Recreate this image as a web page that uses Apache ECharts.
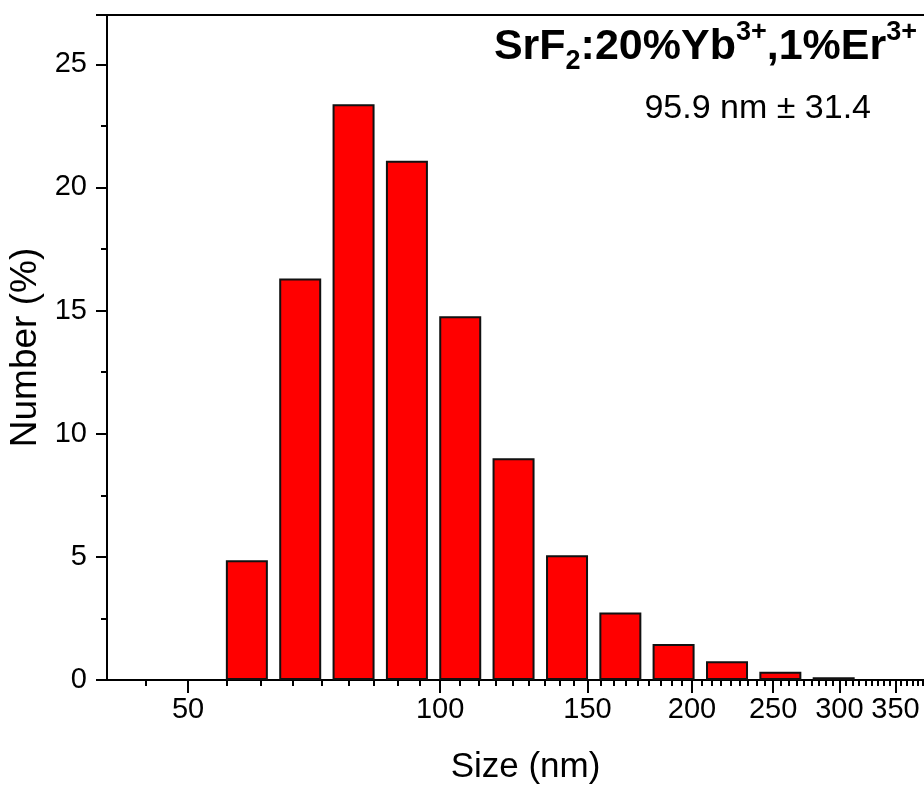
<!DOCTYPE html>
<html>
<head>
<meta charset="utf-8">
<script src="https://cdn.jsdelivr.net/npm/echarts@6/dist/echarts.min.js"></script>
<style>
  html, body { margin: 0; padding: 0; background: #fff; }
  #chart { width: 924px; height: 786px; }
</style>
</head>
<body>
<div id="chart"></div>
<script>
// DLS size bins (nm, bin centres) and number distribution (%)
const sizes = [58.77, 68.06, 78.82, 91.28, 105.7, 122.4, 141.8, 164.2, 190.1, 220.2, 255.0, 295.3];
const numbers = [4.86, 16.30, 23.38, 21.08, 14.77, 9.0, 5.07, 2.74, 1.46, 0.76, 0.33, 0.11];

// x axis (log) range and labelled ticks
const xRange = [40, 400];
const xTicks = [50, 100, 150, 200, 250, 300, 350];
const minorPerMajor = 9;

const fontFamily = 'Liberation Sans, Arial, sans-serif';
const lg = v => Math.log10(v);

// minor ticks: each 50 nm step split into 9 parts
let minorTicks = [];
let step = (xTicks[1] - xTicks[0]) / minorPerMajor;
for (let v = xTicks[0] - step; v > xRange[0]; v -= step) minorTicks.push(v);
for (let i = 0; i < xTicks.length; i++) {
    for (let j = 1; j < minorPerMajor; j++) {
        let v = xTicks[i] + j * step;
        if (v < xRange[1]) minorTicks.push(v);
    }
}

let barData = sizes.map((s, i) => [lg(s), numbers[i]]);

let chart = echarts.init(document.getElementById('chart'));
chart.setOption({
    animation: false,
    backgroundColor: '#fff',
    title: [{
        text: '{b|SrF}{sub|2}{b|:20%Yb}{sup|3+}{b|,1%Er}{sup|3+}',
        right: 2,
        top: 14,
        textStyle: {
            rich: {
                b: { fontFamily: fontFamily, fontWeight: 'bold', fontSize: 43, color: '#000', lineHeight: 56 },
                sub: { fontFamily: fontFamily, fontWeight: 'bold', fontSize: 27, color: '#000', verticalAlign: 'bottom', lineHeight: 27 },
                sup: { fontFamily: fontFamily, fontWeight: 'bold', fontSize: 27, color: '#000', verticalAlign: 'top', lineHeight: 27 }
            }
        }
    }, {
        text: '95.9 nm \u00b1 31.4',
        right: 48,
        top: 87,
        textStyle: { fontFamily: fontFamily, fontWeight: 'normal', fontSize: 34, color: '#000' }
    }],
    grid: {
        left: 107,
        top: 15,
        right: -20,
        bottom: 106,
        show: true,
        borderColor: '#000',
        borderWidth: 2,
        outerBoundsMode: 'none'
    },
    xAxis: [{
        type: 'value',
        min: lg(xRange[0]),
        max: lg(xRange[1]),
        position: 'bottom',
        name: 'Size (nm)',
        nameLocation: 'middle',
        nameGap: 70,
        nameTextStyle: { fontFamily: fontFamily, fontSize: 35, color: '#000' },
        axisLine: { show: true, onZero: false, lineStyle: { color: '#000', width: 2 } },
        axisTick: { show: true, inside: false, length: 13, customValues: xTicks.map(lg), lineStyle: { color: '#000', width: 2 } },
        axisLabel: {
            customValues: xTicks.map(lg),
            formatter: v => Math.round(Math.pow(10, v)),
            fontFamily: fontFamily, fontSize: 29, color: '#000', margin: 15
        },
        splitLine: { show: false }
    }, {
        type: 'value',
        min: lg(xRange[0]),
        max: lg(xRange[1]),
        position: 'bottom',
        axisLine: { show: false },
        axisTick: { show: true, length: 6, customValues: minorTicks.map(lg), lineStyle: { color: '#000', width: 2 } },
        axisLabel: { show: false },
        splitLine: { show: false }
    }],
    yAxis: {
        type: 'value',
        min: 0,
        max: 27,
        interval: 5,
        name: 'Number (%)',
        nameLocation: 'middle',
        nameGap: 60,
        nameTextStyle: { fontFamily: fontFamily, fontSize: 37, color: '#000' },
        axisLine: { show: true, lineStyle: { color: '#000', width: 2 } },
        axisTick: { show: true, length: 11, lineStyle: { color: '#000', width: 2 } },
        minorTick: { show: true, splitNumber: 2, length: 6, lineStyle: { color: '#000', width: 2 } },
        axisLabel: {
            fontFamily: fontFamily, fontSize: 29, color: '#000', margin: 20,
            formatter: v => (v % 5 === 0 ? v : '')
        },
        splitLine: { show: false }
    },
    series: [{
        type: 'bar',
        xAxisIndex: 0,
        data: barData,
        barWidth: 42,
        itemStyle: { color: '#ff0000', borderColor: '#111', borderWidth: 2 }
    }]
});
</script>
</body>
</html>
